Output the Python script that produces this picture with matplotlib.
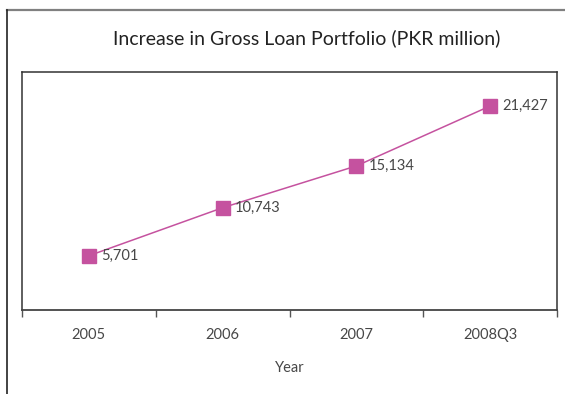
import matplotlib.pyplot as plt
from matplotlib.lines import Line2D

plt.rcParams['font.family'] = ['Lato', 'DejaVu Sans']

# Gross loan portfolio, PKR million
years = ["2005", "2006", "2007", "2008Q3"]
portfolio = [5701, 10743, 15134, 21427]

pink = "#C5529F"
text_grey = "#474747"

fig = plt.figure(figsize=(5.65, 3.94), dpi=100)
fig.patch.set_facecolor("white")

# outer frame: top and left rules only
fig.add_artist(Line2D([7 / 565, 1.0], [1 - 9.5 / 394, 1 - 9.5 / 394],
                      color="#808080", lw=1.6, transform=fig.transFigure))
fig.add_artist(Line2D([7 / 565, 7 / 565], [0.0, 1 - 9.5 / 394],
                      color="#222222", lw=1.2, transform=fig.transFigure))

ax = fig.add_axes([22 / 565, 1 - 310 / 394, (557 - 22) / 565, (310 - 72) / 394])
x = list(range(len(years)))
ax.plot(x, portfolio, color=pink, lw=1.1, marker="s", markersize=9.5,
        markerfacecolor=pink, markeredgecolor=pink, zorder=3)

for xi, v in zip(x, portfolio):
    ax.annotate(f"{v:,}", (xi, v), xytext=(9, 0), textcoords="offset points",
                ha="left", va="center", fontsize=10.5, color=text_grey)

ax.set_xlim(-0.5, len(years) - 0.5)
ax.set_ylim(0, 25000)
ax.set_yticks([])

# ticks sit on category boundaries, labels centred in each category
ax.set_xticks([i - 0.5 for i in range(len(years) + 1)])
ax.set_xticklabels([])
ax.set_xticks(x, minor=True)
ax.set_xticklabels(years, minor=True)
ax.tick_params(axis="x", which="major", direction="out", length=5, width=1,
               color="#555555")
ax.tick_params(axis="x", which="minor", length=0, pad=13, labelsize=10.5,
               labelcolor=text_grey)

for side in ["left", "top", "right"]:
    ax.spines[side].set_color("#333333")
    ax.spines[side].set_linewidth(1.1)
ax.spines["bottom"].set_color("#444444")
ax.spines["bottom"].set_linewidth(1.3)

ax.set_xlabel("Year", fontsize=10.5, color=text_grey, labelpad=14)

fig.text(307 / 565, 1 - 38 / 394, "Increase in Gross Loan Portfolio (PKR million)",
         ha="center", va="center", fontsize=14, color="#222222")

fig.savefig("out.png", dpi=100)
